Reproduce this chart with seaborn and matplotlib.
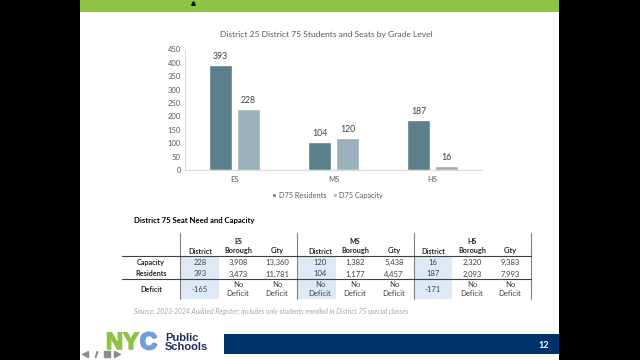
import pandas as pd
import matplotlib.pyplot as plt
import matplotlib.patheffects as pe
import seaborn as sns
from matplotlib.patches import Rectangle

# chart data
grades = ["ES", "MS", "HS"]
residents = [393, 104, 187]
capacity = [228, 120, 16]

# table data
scopes = ["District", "Borough", "City"]
table_capacity = ["228", "3,908", "13,360", "120", "1,382", "5,438", "16", "2,320", "9,383"]
table_residents = ["393", "3,473", "11,781", "104", "1,177", "4,457", "187", "2,093", "7,993"]
table_deficit = ["-165", "No\nDeficit", "No\nDeficit", "No\nDeficit", "No\nDeficit",
                 "No\nDeficit", "-171", "No\nDeficit", "No\nDeficit"]

sns.set_theme(style="white")
plt.rcParams["font.family"] = ["Lato", "DejaVu Sans"]

df = pd.DataFrame({
    "grade": grades * 2,
    "value": residents + capacity,
    "series": ["D75 Residents"] * 3 + ["D75 Capacity"] * 3,
})

fig = plt.figure(figsize=(6.4, 3.6), dpi=100, facecolor="black")

# slide background, in pixel coordinates
bg = fig.add_axes([0, 0, 1, 1])
bg.set_xlim(0, 640)
bg.set_ylim(360, 0)
bg.axis("off")
bg.add_patch(Rectangle((80, 0), 479, 360, color="white", lw=0))
bg.add_patch(Rectangle((80, 0), 479, 12, color="#8DC343", lw=0))
bg.add_patch(Rectangle((224, 334), 335, 20, color="#00336A", lw=0))
bg.text(544, 345.5, "12", color="white", fontsize=6.5, fontweight="bold", ha="center", va="center")

# bar chart
ax = fig.add_axes([185 / 640, 1 - 170 / 360, 297 / 640, 120.5 / 360], facecolor="none")
sns.barplot(
    data=df, x="grade", y="value", hue="series", order=grades, ax=ax,
    palette=["#5B7F8B", "#9AB0BA"], width=0.566, gap=0.214, saturation=1,
)
for c in ax.containers:
    ax.bar_label(c, padding=3, fontsize=6.3, color="#404040")
ax.set_ylim(0, 450)
ax.set_yticks(range(0, 451, 50))
ax.set_xlabel("")
ax.set_ylabel("")
ax.tick_params(axis="both", labelsize=5.5, colors="#595959", length=0, pad=3)
ax.tick_params(axis="x", pad=4)
sns.despine(ax=ax)
for s in ["left", "bottom"]:
    ax.spines[s].set_color("#D9D9D9")
    ax.spines[s].set_linewidth(0.8)
ax.legend(
    loc="upper center", bbox_to_anchor=(0.48, -0.15), ncol=2, frameon=False,
    fontsize=5.3, labelcolor="#595959", handlelength=0.6, handleheight=0.6,
    handletextpad=0.3, columnspacing=0.9, borderpad=0,
)
fig.text(326 / 640, 1 - 35 / 360, "District 25 District 75 Students and Seats by Grade Level",
         fontsize=6.1, color="#595959", ha="center", va="center")

# table
col_x = [200, 238, 277, 320, 355, 394, 433, 472, 510]
group_x = [238, 355, 472]
sep_x = [180, 296.7, 413.7, 530.7]
dark = "#262626"

bg.text(134, 220.5, "District 75 Seat Need and Capacity", fontsize=5.6, fontweight="bold",
        color="black", va="center")
for left, right in [(181, 219), (297, 336), (414, 452)]:
    bg.add_patch(Rectangle((left, 257), right - left, 42, color="#DEE9F5", lw=0))
for x in sep_x:
    bg.plot([x, x], [233, 299], color="#808080", lw=0.8)
for y in [256, 279]:
    bg.plot([122, 531], [y, y], color="#404040", lw=0.8)
for x, name in zip(group_x, grades):
    bg.text(x, 241, name, fontsize=5, fontweight="bold", color=dark, ha="center", va="center")
for i, x in enumerate(col_x):
    bg.text(x, 251, scopes[i % 3], fontsize=5.2, fontweight="bold", color=dark, ha="center", va="center")
    bg.text(x, 262.5, table_capacity[i], fontsize=5.5, color="#404040", ha="center", va="center")
    bg.text(x, 274, table_residents[i], fontsize=5.5, color="#404040", ha="center", va="center")
    bg.text(x, 289, table_deficit[i], fontsize=5.5, color="#404040", ha="center", va="center", linespacing=1.25)
for y, name in [(262.5, "Capacity"), (274, "Residents"), (289, "Deficit")]:
    bg.text(151, y, name, fontsize=5.2, fontweight="bold", color=dark, ha="center", va="center")
bg.text(134, 311, "Source: 2023-2024 Audited Register; includes only students enrolled in District 75 special classes",
        fontsize=4.9, style="italic", color="#A6A6A6", va="center")

# logo
heavy = "Liberation Sans"
bg.text(106, 342.5, "NY", fontsize=17, fontweight="bold", color="#8DC343", va="center", family=heavy,
        path_effects=[pe.withStroke(linewidth=1.2, foreground="#8DC343")])
bg.text(140, 342.5, "C", fontsize=17, fontweight="bold", color="#6F9FD8", va="center", family=heavy,
        path_effects=[pe.withStroke(linewidth=1.6, foreground="#6F9FD8")])
bg.text(165, 338, "Public", fontsize=8, fontweight="bold", color="#1B2F5E", va="center", family=heavy)
bg.text(165, 347.5, "Schools", fontsize=8, fontweight="bold", color="#1B2F5E", va="center", family=heavy)

# presenter controls and pointer
for x, mark in [(85, "<"), (96, "$/$"), (107, "s"), (117, ">")]:
    bg.plot(x, 354, marker=mark, ms=4, color="#8C8C8C", mec="#8C8C8C", ls="none")
bg.plot(193, 3, marker="^", ms=2.5, color="black", ls="none")

fig.savefig("out.png", dpi=100, facecolor="black")
